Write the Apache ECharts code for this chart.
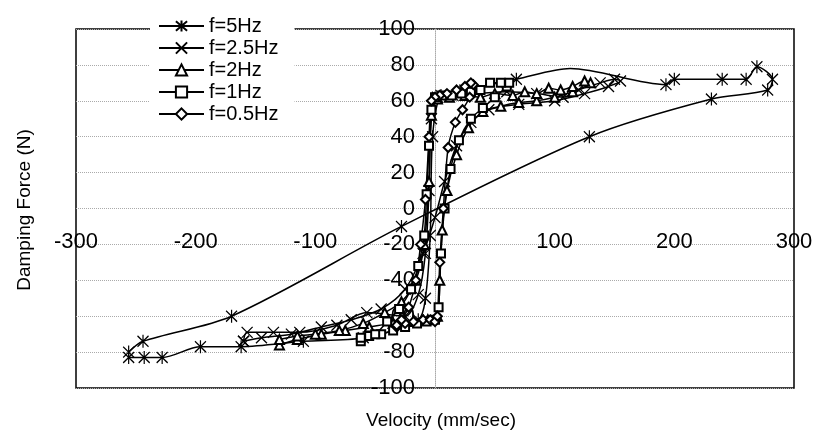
<!DOCTYPE html>
<html><head><meta charset="utf-8">
<script src="https://cdn.jsdelivr.net/npm/echarts@6/dist/echarts.min.js"></script>
<style>html,body{margin:0;padding:0;background:#fff}#c{width:817px;height:440px}</style>
</head><body><div id="c"></div>
<script>
const seriesNames = ['f=5Hz', 'f=2.5Hz', 'f=2Hz', 'f=1Hz', 'f=0.5Hz'];

// [velocity (mm/sec), damping force (N)] read along each hysteresis loop
const f5Hz = [
  [-256,-80],[-244,-74],[-170,-60],[-28,-10],[129,40],[231,61],[278,66],
  [282,72],[269,79],[260,72],[240,72],[200,72],[193,69],[113,78],[68,72],[25,66],[5,63],
  [-2,40],[-4,-15],[-8,-50],[-14,-62],[-60,-72],[-110,-74],[-162,-77],[-196,-77],
  [-228,-83],[-243,-83],[-256,-83]
];
// points of the curve that carry no marker in the original
const unmarkedPoints = [[113,78]];

const f2_5Hz = [
  [-160,-74],[-145,-72],[-120,-70],[-95,-66],[-70,-62],[-45,-56],[-25,-45],[-10,-25],
  [0,-5],[8,15],[18,35],[30,48],[45,55],[70,58],[100,60],[125,64],[145,68],[155,71],
  [150,72],[138,70],[120,66],[107,62],[85,64],[60,65],[35,64],[15,63],[2,62],
  [-3,50],[-5,10],[-8,-25],[-14,-48],[-25,-60],[-57,-58],[-82,-65],[-113,-69],
  [-135,-69],[-157,-69],[-160,-74]
];
const f2Hz = [
  [-130,-76],[-115,-73],[-95,-70],[-75,-68],[-55,-66],[-35,-64],[-18,-63],[-6,-62],
  [2,-60],[4,-40],[6,-12],[10,10],[18,30],[28,45],[40,54],[55,57],[70,59],[85,60],
  [100,62],[115,65],[130,70],
  [125,71],[115,68],[105,66],[95,67],[85,64],[75,65],[65,63],[50,64],[38,62],[25,63],
  [12,62],[2,61],[-3,52],[-5,15],[-9,-20],[-16,-40],[-28,-52],[-42,-58],[-60,-64],
  [-80,-68],[-100,-70],[-115,-71],[-130,-73]
];
const f1Hz = [
  [-62,-74],[-55,-71],[-45,-70],[-35,-68],[-25,-66],[-15,-64],[-7,-63],[0,-62],
  [3,-55],[5,-25],[8,0],[13,22],[20,38],[30,50],[40,56],[50,62],[60,68],
  [62,70],[55,70],[46,70],[38,66],[30,65],[22,64],[14,63],[6,63],[0,62],
  [-3,55],[-5,35],[-7,8],[-9,-15],[-14,-32],[-20,-45],[-30,-56],[-40,-63],
  [-50,-70],[-62,-72]
];
const f0_5Hz = [
  [-32,-66],[-25,-64],[-18,-63],[-10,-62],[-4,-62],[0,-63],[2,-60],[4,-30],[7,0],
  [11,34],[17,48],[23,55],[29,62],[32,69],
  [30,70],[25,68],[18,66],[10,64],[4,63],[0,62],[-3,60],[-5,40],[-8,5],[-12,-20],
  [-16,-40],[-22,-55],[-28,-62],[-32,-65]
];

const xTicks = [-300, -200, -100, 0, 100, 200, 300];
const yTicks = [-100, -80, -60, -40, -20, 0, 20, 40, 60, 80, 100];
const xTitle = 'Velocity (mm/sec)';
const yTitle = 'Damping Force (N)';

const FONT = '"Liberation Sans", Arial, sans-serif';
const ASTERISK = 'path://M0,1L10,11M10,1L0,11M5,0L5,12';
const CROSS = 'path://M0,0L10,10M10,0L0,10';

const seriesData = [f5Hz, f2_5Hz, f2Hz, f1Hz, f0_5Hz];
const symbols = [ASTERISK, CROSS, 'emptyTriangle', 'emptyRect', 'emptyDiamond'];
const symbolSizes = [[11, 13], 11, 9, 8, 9];

// grid geometry
const G = {left: 76, right: 23, top: 29, bottom: 52, w: 817, h: 440};
const plotW = G.w - G.left - G.right, plotH = G.h - G.top - G.bottom;
const xMin = xTicks[0], xMax = xTicks[xTicks.length - 1];
const yMin = yTicks[0], yMax = yTicks[yTicks.length - 1];
// offsets that put each axis where the other axis is zero (axes cross at origin)
const yAxisOffset = -plotW * (0 - xMin) / (xMax - xMin);
const xAxisOffset = -plotH * (0 - yMin) / (yMax - yMin);

const isUnmarked = v => unmarkedPoints.some(p => p[0] === v[0] && p[1] === v[1]);

const chart = echarts.init(document.getElementById('c'), null, {renderer: 'canvas'});
chart.setOption({
  animation: false,
  backgroundColor: '#fff',
  grid: {left: G.left, right: G.right, top: G.top, bottom: G.bottom, show: true,
         borderColor: '#000', borderWidth: 1.5, backgroundColor: 'transparent'},
  legend: {
    data: seriesNames, orient: 'vertical', left: 150, top: 10,
    padding: [6, 16, 6, 8], itemGap: 2, itemWidth: 45, itemHeight: 14,
    backgroundColor: '#fff',
    textStyle: {fontFamily: FONT, fontSize: 20, color: '#000', lineHeight: 20}
  },
  graphic: [
    {type: 'text', x: 441, y: 421, silent: true,
     style: {text: xTitle, font: '19px ' + FONT, fill: '#000', align: 'center', verticalAlign: 'middle'}},
    {type: 'text', x: 25, y: 210, rotation: Math.PI / 2, silent: true,
     style: {text: yTitle, font: '19px ' + FONT, fill: '#000', align: 'center', verticalAlign: 'middle'}}
  ],
  xAxis: {
    type: 'value', min: xMin, max: xMax, interval: xTicks[1] - xTicks[0],
    position: 'bottom', offset: xAxisOffset,
    axisLine: {show: false, onZero: false},
    axisTick: {show: false},
    axisLabel: {fontFamily: FONT, fontSize: 22, color: '#000', margin: 22,
                formatter: v => (v === 0 ? '' : String(v))},
    splitLine: {show: false}
  },
  yAxis: {
    type: 'value', min: yMin, max: yMax, interval: yTicks[1] - yTicks[0],
    position: 'left', offset: yAxisOffset,
    axisLine: {show: true, onZero: false, lineStyle: {color: '#aaa', type: 'dotted', width: 1}},
    axisTick: {show: false},
    axisLabel: {fontFamily: FONT, fontSize: 22, color: '#000', margin: 20},
    splitLine: {show: true, lineStyle: {color: '#aaa', type: 'dotted', width: 1}}
  },
  series: seriesNames.map((name, i) => ({
    name, type: 'line', data: seriesData[i], smooth: 0.3,
    symbol: symbols[i],
    symbolSize: v => (isUnmarked(v) ? 0 : symbolSizes[i]),
    showAllSymbol: true,
    lineStyle: {color: '#000', width: 1.5},
    itemStyle: {color: '#000', borderColor: '#000', borderWidth: 1.3}
  }))
});
</script></body></html>
